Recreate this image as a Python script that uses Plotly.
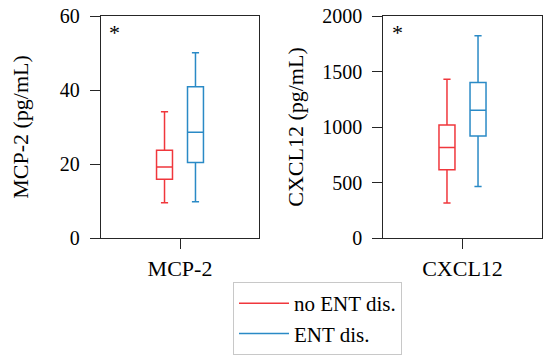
import plotly.graph_objects as go

groups = ["no ENT dis.", "ENT dis."]
colors = ["#f0373c", "#2a8ac6"]

mcp2_cat = ["MCP-2"]
mcp2_low = [9.5, 9.8]
mcp2_q1 = [15.9, 20.4]
mcp2_med = [19.2, 28.6]
mcp2_q3 = [23.7, 40.9]
mcp2_high = [34.1, 50.1]

cxcl_cat = ["CXCL12"]
cxcl_low = [315, 465]
cxcl_q1 = [615, 920]
cxcl_med = [815, 1151]
cxcl_q3 = [1019, 1400]
cxcl_high = [1430, 1823]

FONT = "Liberation Serif"
AX = "#262626"

fig = go.Figure()
for i, g in enumerate(groups):
    fig.add_trace(go.Box(
        x=mcp2_cat, q1=[mcp2_q1[i]], median=[mcp2_med[i]], q3=[mcp2_q3[i]],
        lowerfence=[mcp2_low[i]], upperfence=[mcp2_high[i]],
        name=g, offsetgroup=str(i), legendgroup=g, showlegend=False,
        line=dict(color=colors[i], width=1.5), fillcolor="rgba(255,255,255,0)",
        whiskerwidth=0.45, boxpoints=False, xaxis="x", yaxis="y"))
    fig.add_trace(go.Box(
        x=cxcl_cat, q1=[cxcl_q1[i]], median=[cxcl_med[i]], q3=[cxcl_q3[i]],
        lowerfence=[cxcl_low[i]], upperfence=[cxcl_high[i]],
        name=g, offsetgroup=str(i), legendgroup=g, showlegend=False,
        line=dict(color=colors[i], width=1.5), fillcolor="rgba(255,255,255,0)",
        whiskerwidth=0.45, boxpoints=False, xaxis="x2", yaxis="y2"))
for i, g in enumerate(groups):
    fig.add_trace(go.Scatter(x=[None], y=[None], mode="lines", name=g,
                             line=dict(color=colors[i], width=1.5),
                             legendgroup=g, showlegend=True, xaxis="x", yaxis="y"))

ydom = [1 - 238 / 355, 1 - 16 / 355]
common_x = dict(type="category", range=[-0.5, 0.5], showline=True, linecolor=AX, linewidth=1.3,
                mirror=True, ticks="outside", ticklen=10, tickcolor=AX, tickwidth=1.3,
                showgrid=False, zeroline=False, tickfont=dict(family=FONT, size=22, color="black"),
                automargin=False)
common_y = dict(showline=True, linecolor=AX, linewidth=1.3, mirror=True, ticks="outside",
                ticklen=10, tickcolor=AX, tickwidth=1.3, showgrid=False, zeroline=False,
                tickfont=dict(family=FONT, size=20, color="black"), domain=ydom,
                ticklabelstandoff=6, automargin=False)

fig.update_layout(
    width=550, height=355,
    margin=dict(l=0, r=0, t=0, b=0),
    paper_bgcolor="white", plot_bgcolor="white",
    boxmode="group", boxgap=0.608, boxgroupgap=0.485,
    font=dict(family=FONT, size=20, color="black"),
    xaxis=dict(domain=[101 / 550, 259 / 550], anchor="y", **common_x),
    xaxis2=dict(domain=[383.3 / 550, 541.7 / 550], anchor="y2", **common_x),
    yaxis=dict(range=[0, 60], dtick=20, anchor="x",
               title=dict(text="MCP-2 (pg/mL)", font=dict(family=FONT, size=22), standoff=25),
               **common_y),
    yaxis2=dict(range=[0, 2000], dtick=500, anchor="x2",
                title=dict(text="CXCL12 (pg/mL)", font=dict(family=FONT, size=22), standoff=12),
                **common_y),
    legend=dict(x=233 / 550, y=1 - 282 / 355, xanchor="left", yanchor="top",
                itemwidth=50,
                bordercolor="#c8c8c8", borderwidth=1, bgcolor="white",
                font=dict(family=FONT, size=21), tracegroupgap=0),
    annotations=[
        dict(text="*", xref="x domain", yref="y domain", x=0.04, y=0.99, xanchor="left",
             yanchor="top", showarrow=False, font=dict(family=FONT, size=22)),
        dict(text="*", xref="x2 domain", yref="y2 domain", x=0.04, y=0.99, xanchor="left",
             yanchor="top", showarrow=False, font=dict(family=FONT, size=22)),
    ],
)

fig.write_html("out.html", post_script="document.body.style.margin='0px';",
               config={"displayModeBar": False})
